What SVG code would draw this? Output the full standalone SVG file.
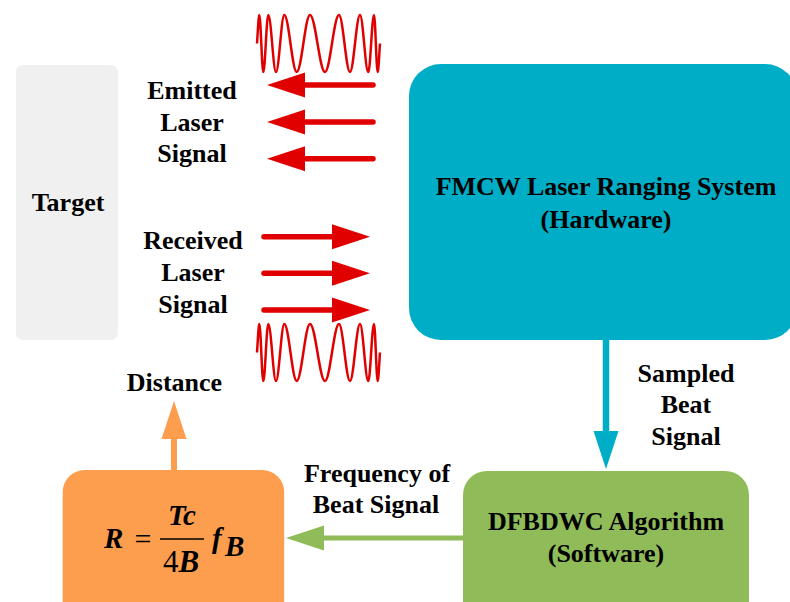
<svg xmlns="http://www.w3.org/2000/svg" xmlns:xlink="http://www.w3.org/1999/xlink" width="790" height="602" viewBox="0 0 790 602">
<style>
.t{font-family:"Liberation Serif","Times New Roman",serif;font-weight:bold;font-size:26px;fill:#000;text-anchor:middle}
.m{font-family:"Liberation Serif","Times New Roman",serif;font-weight:bold;font-style:italic;font-size:29px;fill:#000}
.red{stroke:#e00000;stroke-width:5.5;stroke-linecap:round;fill:none}
</style>
<defs>
<path id="chirp" fill="none" stroke="#e00000" stroke-width="2.5" d="M257,43.5 C257.8,33 258.5,15 259.3,15 C260.75,15 261.85,72 263.3,72 C265.12,72 266.48,15 268.3,15 C271.1,15 273.2,72 276,72 C279.02,72 281.28,15 284.3,15 C288.81,15 292.19,72 296.7,72 C301.53,72 305.17,15 310,15 C315.45,15 319.55,72 325,72 C330.09,72 333.91,15 339,15 C343,15 346,72 350,72 C353.63,72 356.37,15 360,15 C363.02,15 365.28,72 368.3,72 C370.37,72 371.930,15 374,15 C375.34,15 376.36,72 377.7,72 C378.5,72 379.2,54 380,43.5"/>
<marker id="hRed" markerUnits="userSpaceOnUse" markerWidth="40" markerHeight="28" refX="0" refY="12.5" orient="auto" overflow="visible"><path d="M-1,0 L37,12.5 L-1,25 z" fill="#e00000"/></marker>
<marker id="hBlue" markerUnits="userSpaceOnUse" markerWidth="40" markerHeight="28" refX="0" refY="12.5" orient="auto" overflow="visible"><path d="M-1,0 L37,12.5 L-1,25 z" fill="#00adc6"/></marker>
<marker id="hGreen" markerUnits="userSpaceOnUse" markerWidth="40" markerHeight="28" refX="0" refY="12.5" orient="auto" overflow="visible"><path d="M-1,0 L37,12.5 L-1,25 z" fill="#8fbb58"/></marker>
<marker id="hOrange" markerUnits="userSpaceOnUse" markerWidth="40" markerHeight="28" refX="0" refY="12.5" orient="auto" overflow="visible"><path d="M-1,0 L37,12.5 L-1,25 z" fill="#fd9e4f"/></marker>
</defs>
<rect width="790" height="602" fill="#fff"/>

<g id="target">
<rect x="16" y="65" width="102" height="275" rx="7" fill="#f0f0f0"/>
<text class="t" x="68" y="211">Target</text>
</g>

<g id="fmcw">
<rect x="409" y="64" width="388" height="276" rx="32" fill="#00adc6"/>
<text class="t" x="606" y="195">FMCW Laser Ranging System</text>
<text class="t" x="606" y="228">(Hardware)</text>
</g>

<g id="dfbdwc">
<rect x="463" y="471" width="286" height="160" rx="24" fill="#8fbb58"/>
<text class="t" x="606" y="530">DFBDWC Algorithm</text>
<text class="t" x="606" y="562">(Software)</text>
</g>

<g id="formula">
<rect x="62.7" y="470" width="221.5" height="160" rx="22" fill="#fd9e4f"/>
<text class="m" x="104" y="548">R</text>
<text x="143" y="549" text-anchor="middle" font-family="Liberation Serif, Times New Roman, serif" font-size="30">=</text>
<line x1="160" y1="539" x2="204" y2="539" stroke="#000" stroke-width="1.6"/>
<text class="m" x="182" y="525" text-anchor="middle">Tc</text>
<text x="181" y="572" text-anchor="middle" font-family="Liberation Serif, Times New Roman, serif" font-size="31"><tspan>4</tspan><tspan font-weight="bold" font-style="italic">B</tspan></text>
<text class="m" x="212" y="548">f</text>
<text class="m" x="225" y="556" font-size="17">B</text>
</g>

<g id="waves">
<use xlink:href="#chirp" href="#chirp"/>
<use xlink:href="#chirp" href="#chirp" y="309"/>
</g>

<g id="labels">
<text class="t" x="192" y="99">Emitted</text>
<text class="t" x="192" y="131">Laser</text>
<text class="t" x="192" y="162">Signal</text>
<text class="t" x="193" y="249">Received</text>
<text class="t" x="193" y="281">Laser</text>
<text class="t" x="193" y="313">Signal</text>
<text class="t" x="174.5" y="391">Distance</text>
<text class="t" x="686" y="382">Sampled</text>
<text class="t" x="686" y="413">Beat</text>
<text class="t" x="686" y="445">Signal</text>
<text class="t" x="377" y="482">Frequency of</text>
<text class="t" x="376" y="513">Beat Signal</text>
</g>

<g id="connectors">
<line class="red" x1="373" y1="85" x2="304" y2="85" marker-end="url(#hRed)"/>
<line class="red" x1="373" y1="122" x2="304" y2="122" marker-end="url(#hRed)"/>
<line class="red" x1="373" y1="158.7" x2="304" y2="158.7" marker-end="url(#hRed)"/>
<line class="red" x1="264" y1="236.7" x2="333" y2="236.7" marker-end="url(#hRed)"/>
<line class="red" x1="264" y1="273.3" x2="333" y2="273.3" marker-end="url(#hRed)"/>
<line class="red" x1="264" y1="310" x2="333" y2="310" marker-end="url(#hRed)"/>
<line x1="606" y1="340" x2="606" y2="432" stroke="#00adc6" stroke-width="6.5" marker-end="url(#hBlue)"/>
<line x1="463" y1="538" x2="323" y2="538" stroke="#8fbb58" stroke-width="5" marker-end="url(#hGreen)"/>
<line x1="174" y1="470" x2="174" y2="438" stroke="#fd9e4f" stroke-width="6" marker-end="url(#hOrange)"/>
</g>
</svg>
